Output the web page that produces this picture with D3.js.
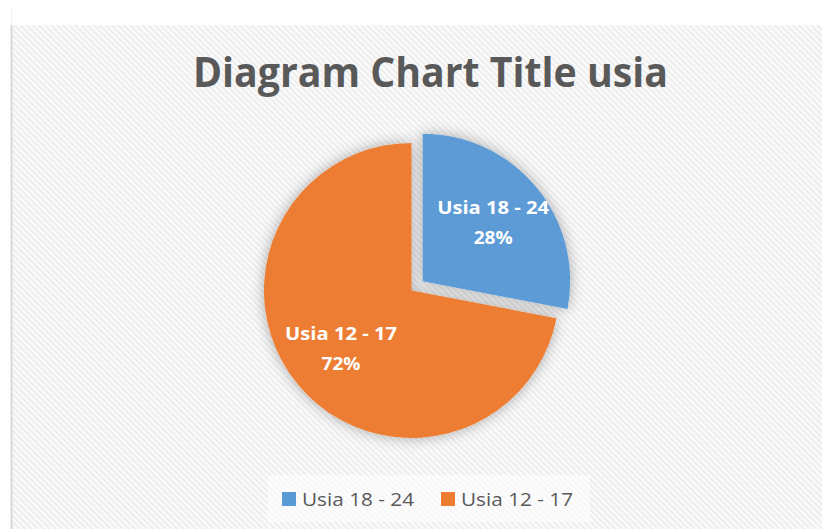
<!DOCTYPE html>
<html>
<head>
<meta charset="utf-8">
<script src="https://cdn.jsdelivr.net/npm/d3@7/dist/d3.min.js"></script>
<style>
  html, body { margin: 0; padding: 0; background: #ffffff; }
  svg { display: block; }
</style>
</head>
<body>
<svg id="chart" width="822" height="529"></svg>
<script>
// ---- data ----
const title = "Diagram Chart Title usia";
const categories = ["Usia 18 - 24", "Usia 12 - 17"];
const values = [28, 72];
const colors = ["#5B9BD5", "#ED7D31"];

// ---- layout ----
const W = 822, H = 529;
const svg = d3.select("#chart");
const defs = svg.append("defs");

// diagonal hatch background
const pat = defs.append("pattern")
  .attr("id", "hatch")
  .attr("patternUnits", "userSpaceOnUse")
  .attr("width", 4.3).attr("height", 4.3)
  .attr("patternTransform", "rotate(-45)");
pat.append("rect").attr("width", 4.3).attr("height", 4.3).attr("fill", "#fbfbfb");
pat.append("rect").attr("width", 2.0).attr("height", 4.3).attr("fill", "#ededed");

// soft shadow
const f = defs.append("filter").attr("id", "glow")
  .attr("x", "-20%").attr("y", "-20%").attr("width", "140%").attr("height", "140%");
f.append("feGaussianBlur").attr("in", "SourceAlpha").attr("stdDeviation", 7).attr("result", "b");
f.append("feFlood").attr("flood-color", "#000").attr("flood-opacity", 0.32).attr("result", "c");
f.append("feComposite").attr("in", "c").attr("in2", "b").attr("operator", "in").attr("result", "s");
const fm = f.append("feMerge");
fm.append("feMergeNode").attr("in", "s");
fm.append("feMergeNode").attr("in", "SourceGraphic");

// chart area
svg.append("rect").attr("x", 11).attr("y", 25).attr("width", W - 11).attr("height", H - 25)
  .attr("fill", "url(#hatch)");
svg.append("line").attr("x1", 11.5).attr("x2", 11.5).attr("y1", 25).attr("y2", H)
  .attr("stroke", "#d9d9d9").attr("stroke-width", 2);
svg.append("line").attr("x1", 11.5).attr("x2", 11.5).attr("y1", 8).attr("y2", 25)
  .attr("stroke", "#f2f2f2").attr("stroke-width", 1);

// title
const titleFont = "'Open Sans', 'Noto Sans', sans-serif";
svg.append("text")
  .attr("x", 430.5).attr("y", 87)
  .attr("text-anchor", "middle")
  .attr("font-family", titleFont).attr("font-weight", 700)
  .attr("font-size", 40.5).attr("fill", "#595959")
  .attr("textLength", 475).attr("lengthAdjust", "spacingAndGlyphs")
  .text(title);

// pie
const cx = 411.5, cy = 290.5, r = 147.5, explode = 14.5;
const pie = d3.pie().sort(null).value(d => d).startAngle(0).endAngle(2 * Math.PI);
const arcs = pie(values);
const arc = d3.arc().innerRadius(0).outerRadius(r);
const labelArc = d3.arc().innerRadius(r * 0.62).outerRadius(r * 0.62);

const off = (d, i) => {
  if (i !== 0) return [0, 0];
  const a = (d.startAngle + d.endAngle) / 2;
  return [Math.sin(a) * explode, -Math.cos(a) * explode];
};

const g = svg.append("g").attr("transform", `translate(${cx},${cy})`);
const sl = g.append("g").attr("filter", "url(#glow)");
sl.selectAll("path").data(arcs).join("path")
  .attr("transform", (d, i) => `translate(${off(d, i)})`)
  .attr("d", arc)
  .attr("fill", (d, i) => colors[i]);

const total = d3.sum(values);
const lbl = g.selectAll("g.lbl").data(arcs).join("g").attr("class", "lbl")
  .attr("transform", (d, i) => {
    const c = labelArc.centroid(d); const o = off(d, i);
    return `translate(${c[0] + o[0]},${c[1] + o[1]})`;
  });
lbl.append("text").attr("y", -9).attr("text-anchor", "middle")
  .attr("font-family", titleFont).attr("font-weight", 700).attr("font-size", 18.5)
  .attr("fill", "#ffffff")
  .attr("textLength", 112).attr("lengthAdjust", "spacingAndGlyphs")
  .text((d, i) => categories[i]);
lbl.append("text").attr("y", 21).attr("text-anchor", "middle")
  .attr("font-family", titleFont).attr("font-weight", 700).attr("font-size", 18.5)
  .attr("fill", "#ffffff")
  .attr("textLength", 39).attr("lengthAdjust", "spacingAndGlyphs")
  .text(d => Math.round(d.data / total * 100) + "%");

// legend
svg.append("rect").attr("x", 268).attr("y", 475).attr("width", 322).attr("height", 47)
  .attr("fill", "#ffffff").attr("opacity", 0.55);
const legX = [282, 441];
const leg = svg.selectAll("g.leg").data(categories).join("g").attr("class", "leg")
  .attr("transform", (d, i) => `translate(${legX[i]},492)`);
leg.append("rect").attr("width", 14).attr("height", 14).attr("fill", (d, i) => colors[i]);
leg.append("text").attr("x", 20).attr("y", 13.5)
  .attr("font-family", titleFont).attr("font-size", 18.5).attr("fill", "#595959")
  .attr("textLength", 112).attr("lengthAdjust", "spacingAndGlyphs")
  .text(d => d);
</script>
</body>
</html>
